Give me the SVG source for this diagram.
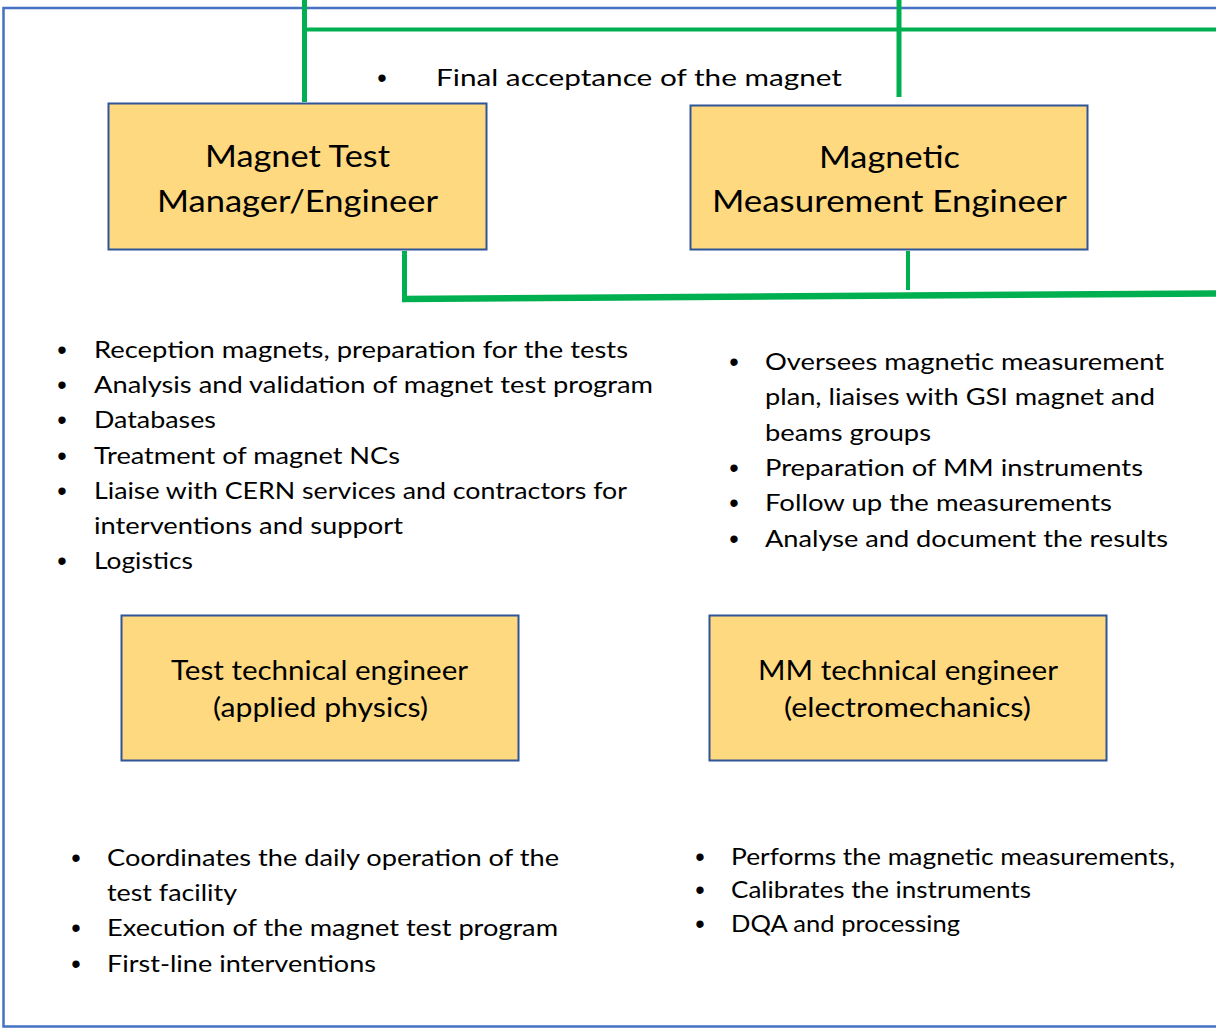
<svg xmlns="http://www.w3.org/2000/svg" width="1216" height="1030" viewBox="0 0 1216 1030">
  <style>
    .frame { fill: none; stroke: #4472C4; stroke-width: 2.5; }
    .box { fill: #FFD980; stroke: #2F5597; stroke-width: 2; }
    .link { fill: none; stroke: #00B050; stroke-linecap: butt; }
    .title { font-family: Lato, "Open Sans", sans-serif; fill: #000; text-anchor: middle; }
    .t1 { font-size: 31px; }
    .t2 { font-size: 27px; }
    .item { font-family: Lato, "Open Sans", sans-serif; font-size: 24px; fill: #000; }
    .dot { font-family: "Liberation Sans", Arial, sans-serif; font-size: 27px; fill: #000; text-anchor: middle; }
  </style>

  <rect x="0" y="0" width="1216" height="1030" fill="#FFFFFF"/>

  <!-- outer frame, open to the right -->
  <path class="frame" d="M1216,8 H3.5 V1026.5 H1216"/>

  <!-- connectors -->
  <g id="connectors">
    <line class="link" x1="304.5" y1="0" x2="304.5" y2="102" stroke-width="5"/>
    <line class="link" x1="302" y1="29.5" x2="1216" y2="29.5" stroke-width="4"/>
    <line class="link" x1="899" y1="0" x2="899" y2="97" stroke-width="5"/>
    <line class="link" x1="404.5" y1="251" x2="404.5" y2="301" stroke-width="5"/>
    <path class="link" d="M402,299 L1216,293.5" stroke-width="6.5"/>
    <line class="link" x1="908" y1="251" x2="908" y2="290" stroke-width="4"/>
  </g>

  <!-- top note -->
  <g id="note-acceptance">
    <text class="dot" x="382" y="87">•</text>
    <text class="item" x="436" y="86" textLength="406" lengthAdjust="spacingAndGlyphs">Final acceptance of the magnet</text>
  </g>

  <!-- role boxes -->
  <g id="node-test-manager">
    <rect class="box" x="108.5" y="103.5" width="378" height="146"/>
    <text class="title t1" x="297.5" y="167" textLength="185" lengthAdjust="spacingAndGlyphs">Magnet Test</text>
    <text class="title t1" x="297.5" y="212" textLength="281" lengthAdjust="spacingAndGlyphs">Manager/Engineer</text>
  </g>

  <g id="node-mm-engineer">
    <rect class="box" x="690.5" y="105.5" width="397" height="144"/>
    <text class="title t1" x="889.5" y="168" textLength="141" lengthAdjust="spacingAndGlyphs">Magnetic</text>
    <text class="title t1" x="889.5" y="212" textLength="355" lengthAdjust="spacingAndGlyphs">Measurement Engineer</text>
  </g>

  <g id="node-test-technical">
    <rect class="box" x="121.5" y="615.5" width="397" height="145"/>
    <text class="title t2" x="319.5" y="680" textLength="297" lengthAdjust="spacingAndGlyphs">Test technical engineer</text>
    <text class="title t2" x="320.5" y="717" textLength="215" lengthAdjust="spacingAndGlyphs">(applied physics)</text>
  </g>

  <g id="node-mm-technical">
    <rect class="box" x="709.5" y="615.5" width="397" height="145"/>
    <text class="title t2" x="908" y="680" textLength="300" lengthAdjust="spacingAndGlyphs">MM technical engineer</text>
    <text class="title t2" x="907.5" y="717" textLength="247" lengthAdjust="spacingAndGlyphs">(electromechanics)</text>
  </g>

  <!-- duties of the test manager -->
  <g id="list-test-manager">
    <text class="dot" x="62" y="359">•</text>
    <text class="item" x="94" y="358" textLength="534" lengthAdjust="spacingAndGlyphs">Reception magnets, preparation for the tests</text>
    <text class="dot" x="62" y="394">•</text>
    <text class="item" x="94" y="393" textLength="559" lengthAdjust="spacingAndGlyphs">Analysis and validation of magnet test program</text>
    <text class="dot" x="62" y="429">•</text>
    <text class="item" x="94" y="428" textLength="122" lengthAdjust="spacingAndGlyphs">Databases</text>
    <text class="dot" x="62" y="465">•</text>
    <text class="item" x="94" y="464" textLength="306" lengthAdjust="spacingAndGlyphs">Treatment of magnet NCs</text>
    <text class="dot" x="62" y="500">•</text>
    <text class="item" x="94" y="499" textLength="533" lengthAdjust="spacingAndGlyphs">Liaise with CERN services and contractors for</text>
    <text class="item" x="94" y="534" textLength="309" lengthAdjust="spacingAndGlyphs">interventions and support</text>
    <text class="dot" x="62" y="570">•</text>
    <text class="item" x="94" y="569" textLength="99" lengthAdjust="spacingAndGlyphs">Logistics</text>
  </g>

  <!-- duties of the magnetic measurement engineer -->
  <g id="list-mm-engineer">
    <text class="dot" x="734" y="371">•</text>
    <text class="item" x="765" y="370" textLength="399" lengthAdjust="spacingAndGlyphs">Oversees magnetic measurement</text>
    <text class="item" x="765" y="405" textLength="390" lengthAdjust="spacingAndGlyphs">plan, liaises with GSI magnet and</text>
    <text class="item" x="765" y="441" textLength="166" lengthAdjust="spacingAndGlyphs">beams groups</text>
    <text class="dot" x="734" y="477">•</text>
    <text class="item" x="765" y="476" textLength="378" lengthAdjust="spacingAndGlyphs">Preparation of MM instruments</text>
    <text class="dot" x="734" y="512">•</text>
    <text class="item" x="765" y="511" textLength="347" lengthAdjust="spacingAndGlyphs">Follow up the measurements</text>
    <text class="dot" x="734" y="548">•</text>
    <text class="item" x="765" y="547" textLength="403" lengthAdjust="spacingAndGlyphs">Analyse and document the results</text>
  </g>

  <!-- duties of the test technical engineer -->
  <g id="list-test-technical">
    <text class="dot" x="76" y="867">•</text>
    <text class="item" x="107" y="866" textLength="452" lengthAdjust="spacingAndGlyphs">Coordinates the daily operation of the</text>
    <text class="item" x="107" y="901" textLength="130" lengthAdjust="spacingAndGlyphs">test facility</text>
    <text class="dot" x="76" y="937">•</text>
    <text class="item" x="107" y="936" textLength="451" lengthAdjust="spacingAndGlyphs">Execution of the magnet test program</text>
    <text class="dot" x="76" y="973">•</text>
    <text class="item" x="107" y="972" textLength="269" lengthAdjust="spacingAndGlyphs">First-line interventions</text>
  </g>

  <!-- duties of the MM technical engineer -->
  <g id="list-mm-technical">
    <text class="dot" x="700" y="866">•</text>
    <text class="item" x="731" y="865" textLength="444" lengthAdjust="spacingAndGlyphs">Performs the magnetic measurements,</text>
    <text class="dot" x="700" y="899">•</text>
    <text class="item" x="731" y="898" textLength="300" lengthAdjust="spacingAndGlyphs">Calibrates the instruments</text>
    <text class="dot" x="700" y="933">•</text>
    <text class="item" x="731" y="932" textLength="229" lengthAdjust="spacingAndGlyphs">DQA and processing</text>
  </g>
</svg>
